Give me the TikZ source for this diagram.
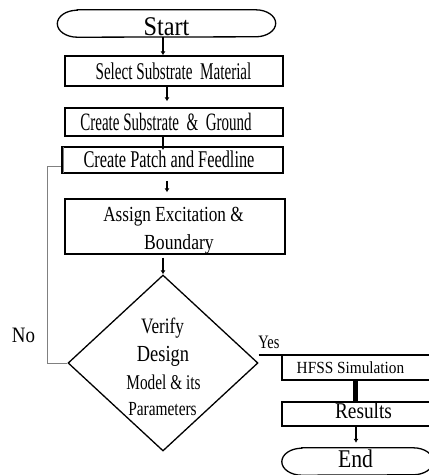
\documentclass[tikz,border=0pt]{standalone}
\usepackage{fontspec}
\setmainfont{Liberation Serif}
\usepackage{graphicx}
\usetikzlibrary{shapes.geometric,shapes.misc,arrows.meta}
\newcommand\tx[3]{\scalebox{#1}[1]{\fontsize{#2pt}{#2pt}\selectfont #3}}
\begin{document}
\begin{tikzpicture}[x=1pt,y=-1pt,
 box/.style={draw, line width=1.3pt, rectangle, inner sep=0pt},
 term/.style={rectangle, inner sep=0pt},
 txt/.style={inner sep=0pt, anchor=base},
 arr/.style={line width=2pt, -{Latex[length=4pt,width=5pt]}},
 fb/.style={draw=gray, line width=1pt},
 termline/.style={line width=1.3pt}]
\clip (0,0) rectangle (429,475);
% shapes
\node[term, minimum width=218pt, minimum height=27pt] (start) at (166.5,23.5) {};
\draw[termline] ([xshift=20pt]start.north west) -- ([xshift=-20pt]start.north east)
  arc[start angle=90, end angle=-90, x radius=20pt, y radius=13.5pt]
  -- ([xshift=20pt]start.south west)
  arc[start angle=270, end angle=90, x radius=20pt, y radius=13.5pt] -- cycle;
\node[box, minimum width=218pt, minimum height=30pt] (sel) at (174,71) {};
\node[box, minimum width=218pt, minimum height=28pt] (csub) at (174,122) {};
\node[box, line width=1.8pt, minimum width=221pt, minimum height=26pt] (patch) at (172.5,160) {};
\draw[gray, line width=1.5pt] ([xshift=2.6pt,yshift=-1pt]patch.north west) -- ([xshift=2.6pt,yshift=1pt]patch.south west);
\node[box, minimum width=220pt, minimum height=55pt] (assign) at (175,226.5) {};
\node[draw, diamond, line width=1.3pt, minimum width=190pt, minimum height=176pt, inner sep=0pt] (dec) at (163,363) {};
\node[box, line width=1.5pt, minimum width=160pt, minimum height=25pt] (hfss) at (362,367.5) {};
\node[box, line width=2pt, minimum width=160pt, minimum height=24pt] (res) at (362,414) {};
\node[term, minimum width=151pt, minimum height=27pt] (end) at (357.5,461.5) {};
\draw[termline] ([xshift=20pt]end.north west) -- ([xshift=-20pt]end.north east)
  arc[start angle=90, end angle=-90, x radius=20pt, y radius=13.5pt]
  -- ([xshift=20pt]end.south west)
  arc[start angle=270, end angle=90, x radius=20pt, y radius=13.5pt] -- cycle;
% texts
\node[txt] (tstart) at (166.5,35) {\tx{0.9}{27}{Start}};
\node[txt] (tsel) at (173.5,79.5) {\tx{0.63}{24}{Select Substrate\ \ Material}};
\node[txt] (tcsub) at (166,130.7) {\tx{0.6}{25}{Create Substrate\ \ \&\ \ Ground}};
\node[txt] (tpatch) at (169,167) {\tx{0.68}{24}{Create Patch and Feedline}};
\node[txt] (tas1) at (173.5,221) {\tx{0.8}{21.5}{Assign Excitation \&}};
\node[txt] (tas2) at (179,249) {\tx{0.82}{21.5}{Boundary}};
\node[txt] (tv1) at (162.5,333) {\tx{0.78}{22}{Verify}};
\node[txt] (tv2) at (163,361) {\tx{0.8}{23}{Design}};
\node[txt] (tv3) at (163.5,389) {\tx{0.73}{21}{Model \& its}};
\node[txt] (tv4) at (162.5,415) {\tx{0.77}{20}{Parameters}};
\node[txt] (tno) at (23.5,342) {\tx{0.86}{22}{No}};
\node[txt] (tyes) at (269,348) {\tx{0.76}{19}{Yes}};
\node[txt] (thfss) at (350.5,373) {\tx{0.9}{17}{HFSS Simulation}};
\node[txt] (tres) at (363.5,418) {\tx{0.86}{22.5}{Results}};
\node[txt] (tend) at (355.5,467) {\tx{0.85}{25.5}{End}};
% connectors
\draw[arr] ([xshift=-3.5pt]start.south) -- ([xshift=-3.5pt]start.south |- sel.north);
\draw[arr, shorten >=6pt] ([xshift=-7pt]sel.south) -- ([xshift=-7pt]sel.south |- csub.north);
\draw[arr, shorten >=-4pt] ([xshift=-11pt]csub.south) -- ([xshift=-11pt]csub.south |- patch.north);
\draw[arr, shorten <=7pt, shorten >=6pt] ([xshift=-5.5pt]patch.south) -- ([xshift=-5.5pt]patch.south |- assign.north);
\draw[arr, shorten <=3pt] (assign.south -| dec.north) -- (dec.north);
\draw[line width=5pt] ([xshift=-7pt]hfss.south) -- ([xshift=-7pt]res.north);
\draw[arr, shorten >=5pt] ([xshift=-6pt]res.south) -- ([xshift=-6pt]res.south |- end.north);
\coordinate (fbc) at (47,166);
\draw[fb] (dec.west) -| (fbc) -- (fbc -| patch.west);
\coordinate (yesend) at (440,355);
\draw[line width=1.2pt] (dec.east |- yesend) -- (yesend);
\end{tikzpicture}
\end{document}
